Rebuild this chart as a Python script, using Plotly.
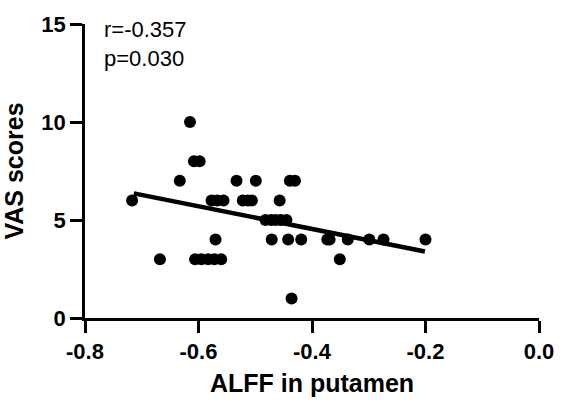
import plotly.graph_objects as go

alff = [-0.717, -0.668, -0.633, -0.615, -0.608, -0.598,
        -0.606, -0.595, -0.583, -0.572, -0.560,
        -0.570,
        -0.577, -0.567, -0.556,
        -0.533, -0.499,
        -0.522, -0.513, -0.506,
        -0.457,
        -0.482, -0.472, -0.464, -0.455, -0.445,
        -0.439, -0.430,
        -0.471, -0.442, -0.419, -0.373, -0.369, -0.337, -0.299, -0.274, -0.200,
        -0.351, -0.436]
vas = [6, 3, 7, 10, 8, 8,
       3, 3, 3, 3, 3,
       4,
       6, 6, 6,
       7, 7,
       6, 6, 6,
       6,
       5, 5, 5, 5, 5,
       7, 7,
       4, 4, 4, 4, 4, 4, 4, 4, 4,
       3, 1]

fit_x = [-0.714, -0.201]
fit_y = [6.36, 3.39]

x_ticks = [-0.8, -0.6, -0.4, -0.2, 0.0]
x_tick_labels = ["-0.8", "-0.6", "-0.4", "-0.2", "0.0"]
y_ticks = [0, 5, 10, 15]
y_tick_labels = ["0", "5", "10", "15"]
stats_lines = ["r=-0.357", "p=0.030"]

FONT = "Liberation Sans, Arial, sans-serif"
W, H = 566, 406
ML, MR, MT, MB = 84, 24, 14, 86
PW, PH = W - ML - MR, H - MT - MB

fig = go.Figure()
fig.add_trace(go.Scatter(x=alff, y=vas, mode="markers",
                         marker=dict(color="black", size=12),
                         cliponaxis=False, showlegend=False))
fig.add_trace(go.Scatter(x=fit_x, y=fit_y, mode="lines",
                         line=dict(color="black", width=4.5),
                         cliponaxis=False, showlegend=False))

tickfont = dict(size=22, family=FONT, weight=700, color="black")

fig.update_layout(
    width=W, height=H,
    margin=dict(l=ML, r=MR, t=MT, b=MB),
    plot_bgcolor="white", paper_bgcolor="white",
    font=dict(family=FONT, color="black"),
    xaxis=dict(range=[-0.8, 0.0], tickvals=x_ticks,
               ticktext=["<b>%s</b>" % t for t in x_tick_labels],
               showgrid=False, zeroline=False, showline=True, linecolor="black",
               linewidth=2.7, ticks="outside", ticklen=12, tickwidth=2.7,
               tickcolor="black", tickfont=tickfont,
               title=dict(text="<b>ALFF in putamen</b>", font=dict(size=25, family=FONT),
                          standoff=12)),
    yaxis=dict(range=[0, 15], tickvals=y_ticks,
               ticktext=["<b>%s</b>" % t for t in y_tick_labels],
               showgrid=False, zeroline=False, showline=True, linecolor="black",
               linewidth=2.7, ticks="outside", ticklen=12, tickwidth=2.7,
               tickcolor="black", tickfont=tickfont,
               title=dict(text="<b>VAS scores</b>", font=dict(size=25, family=FONT),
                          standoff=12)),
)

# stats text, positioned in pixel terms
fig.add_annotation(text="<br>".join(stats_lines), x=(101 - ML) / PW,
                   y=1 - (35 - MT) / PH,
                   xref="paper", yref="paper", showarrow=False, align="left",
                   xanchor="left", yanchor="middle",
                   font=dict(size=22, family=FONT, color="black"))

fig.write_html("out.html")
